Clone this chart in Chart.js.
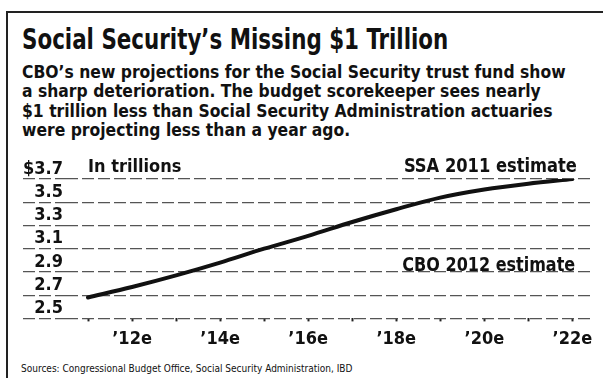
<!DOCTYPE html>
<html>
<head>
<meta charset="utf-8">
<script src="https://cdn.jsdelivr.net/npm/chart.js@4.4.1/dist/chart.umd.min.js"></script>
<style>
  body { margin: 0; background: #fff; }
  #wrap { position: relative; width: 603px; height: 378px; overflow: hidden; background: #fff;
          font-family: "DejaVu Sans Condensed", sans-serif; color: #111; }
  #frame { position: absolute; left: 6px; top: 11px; width: 620px; height: 420px;
           border-left: 2px solid #222; border-top: 2px solid #222; }
  .t { position: absolute; white-space: nowrap; font-weight: bold; transform-origin: left top; }
  #title { left: 22px; top: 26px; font-size: 28px; line-height: 28px; transform: scaleX(0.85); }
  #sub { left: 22px; top: 62px; font-size: 18px; line-height: 19.4px; transform: scaleX(0.963); }
  #src { left: 21px; top: 363px; font-size: 10px; font-weight: normal; }
  #unit { left: 88px; top: 157px; font-size: 18px; line-height: 18px; }
  #ssa { right: 26px; top: 155px; font-size: 20px; line-height: 20px; transform-origin: right top; transform: scaleX(0.906); }
  #cbo { right: 28px; top: 254px; font-size: 20px; line-height: 20px; transform-origin: right top; transform: scaleX(0.89); }
  #chartBox { position: absolute; left: 0; top: 140px; }
</style>
</head>
<body>
<div id="wrap">
  <div id="frame"></div>
  <div class="t" id="title">Social Security’s Missing $1 Trillion</div>
  <div class="t" id="sub">CBO’s new projections for the Social Security trust fund show<br>a sharp deterioration. The budget scorekeeper sees nearly<br>$1 trillion less than Social Security Administration actuaries<br>were projecting less than a year ago.</div>
  <canvas id="chartBox" width="603" height="217"></canvas>
  <div class="t" id="unit">In trillions</div>
  <div class="t" id="ssa">SSA 2011 estimate</div>
  <div class="t" id="cbo">CBO 2012 estimate</div>
  <div class="t" id="src">Sources: Congressional Budget Office, Social Security Administration, IBD</div>
</div>
<script>
// data
const years = [2011, 2012, 2013, 2014, 2015, 2016, 2017, 2018, 2019, 2020, 2021, 2022];
const ssa2011 = [2.68, 2.77, 2.87, 2.98, 3.10, 3.21, 3.33, 3.44, 3.54, 3.61, 3.66, 3.70];
const yTicks = [2.5, 2.7, 2.9, 3.1, 3.3, 3.5, 3.7];
const yTickLabels = ["2.5", "2.7", "2.9", "3.1", "3.3", "3.5", "$3.7"];
const xTickYears = [2012, 2014, 2016, 2018, 2020, 2022];
const xTickLabels = ["’12e", "’14e", "’16e", "’18e", "’20e", "’22e"];

const fontFamily = '"DejaVu Sans Condensed", sans-serif';
const gridDash = [12, 4];

const ctx = document.getElementById("chartBox").getContext("2d");
new Chart(ctx, {
    type: "line",
    data: {
        datasets: [{
            label: "SSA 2011 estimate",
            data: years.map((yr, i) => ({ x: yr, y: ssa2011[i] })),
            borderColor: "#111",
            borderWidth: 4,
            pointRadius: 0,
            cubicInterpolationMode: "monotone",
            borderCapStyle: "round"
        }]
    },
    options: {
        responsive: false,
        animation: false,
        layout: { padding: { left: 23, right: 13, top: 39, bottom: 0 } },
        plugins: { legend: { display: false }, tooltip: { enabled: false } },
        scales: {
            x: {
                type: "linear",
                min: 2010.5,
                max: 2022.4,
                afterBuildTicks: scale => { scale.ticks = years.map(v => ({ value: v })); },
                ticks: {
                    autoSkip: false,
                    maxRotation: 0,
                    padding: 7,
                    color: "#111",
                    font: { family: fontFamily, size: 18, weight: "bold" },
                    callback: v => {
                        const i = xTickYears.indexOf(v);
                        return i < 0 ? "" : xTickLabels[i];
                    }
                },
                grid: { drawOnChartArea: false, drawTicks: true, tickLength: 3, tickWidth: 2, tickColor: "#222" },
                border: { display: false }
            },
            y: {
                min: 2.5,
                max: 3.7,
                afterBuildTicks: scale => { scale.ticks = yTicks.map(v => ({ value: v })); },
                afterFit: scale => { scale.width = 43; },
                ticks: {
                    autoSkip: false,
                    padding: -40,
                    labelOffset: -10,
                    color: "#111",
                    font: { family: fontFamily, size: 18, weight: "bold" },
                    callback: (v, i) => yTickLabels[i]
                },
                grid: { color: "#555", lineWidth: 1.2, tickLength: 43, tickColor: "#555", tickWidth: 1.2, tickBorderDash: gridDash },
                border: { display: false, dash: gridDash }
            }
        }
    }
});
</script>
</body>
</html>
